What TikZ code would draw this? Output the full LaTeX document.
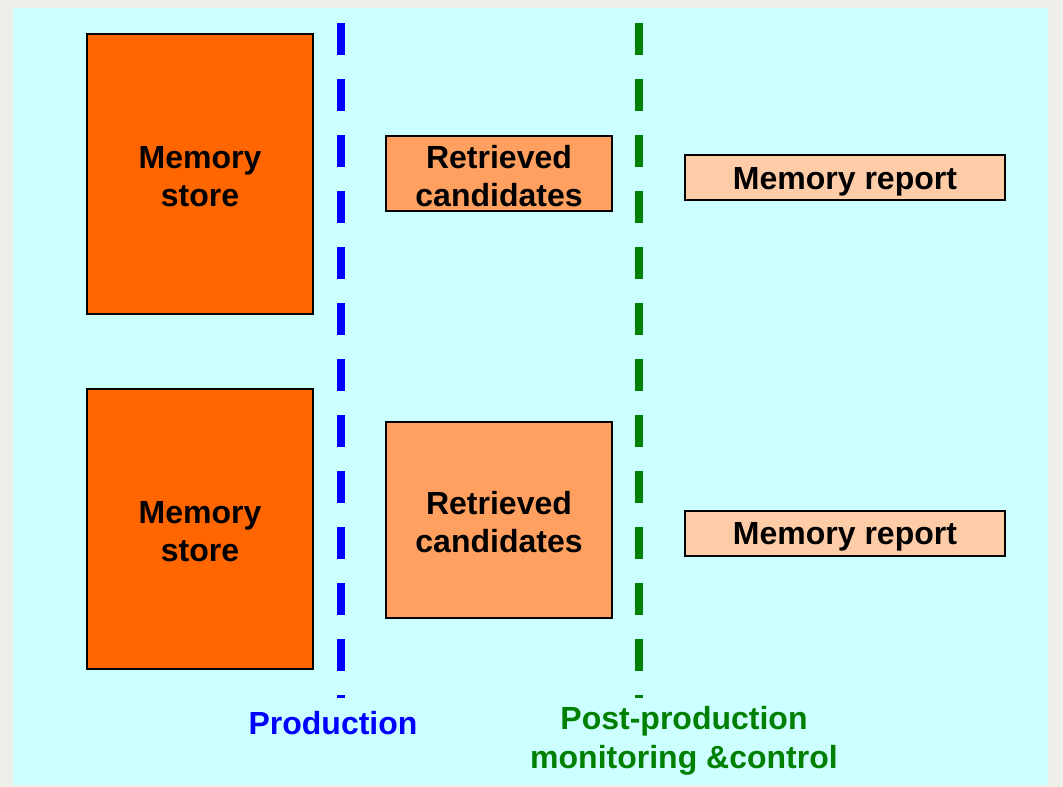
\documentclass[tikz,border=0pt]{standalone}
\usepackage{fontspec}
\setmainfont{Liberation Sans}
\definecolor{pagegray}{HTML}{EFEFEA}
\definecolor{bgcyan}{HTML}{CCFFFF}
\definecolor{storeorange}{HTML}{FF6600}
\definecolor{candorange}{HTML}{FFA060}
\definecolor{reportpeach}{HTML}{FFCCA8}
\definecolor{prodblue}{HTML}{0000FF}
\definecolor{postgreen}{HTML}{008000}
\newcommand{\toppad}{\rule{0pt}{28pt}}
\tikzset{
  boxbase/.style={draw=black, line width=2pt, inner sep=0pt,
    font=\bfseries\fontsize{32}{38}\selectfont},
  box/.style={boxbase, align=center},
  storebox/.style={box, fill=storeorange, minimum width=226pt, minimum height=280pt},
  candbox/.style={box, fill=candorange, minimum width=226pt},
  reportbox/.style={boxbase, fill=reportpeach, minimum width=320pt, minimum height=45pt,
    text height=23pt, text depth=0pt},
  divider/.style={line width=8pt, dash pattern=on 32pt off 24pt},
  phaselabel/.style={align=center, inner sep=0pt, font=\bfseries\fontsize{32}{39}\selectfont}
}
\begin{document}
\begin{tikzpicture}[x=1pt, y=-1pt]
  \fill[pagegray] (0,0) rectangle (1063,787);
  \fill[bgcyan] (13,8) rectangle (1048,785);
  \useasboundingbox (0,0) rectangle (1063,787);

  \node[storebox] (store1) at (200,174) {\toppad Memory\\store};
  \node[storebox] (store2) at (200,529) {\toppad Memory\\store};
  \node[candbox, minimum height=75pt] (cand1) at (499,173.5) {\toppad Retrieved\\candidates};
  \node[candbox, minimum height=196pt] (cand2) at (499,520) {\toppad Retrieved\\candidates};
  \node[reportbox] (report1) at (845,177.5) {Memory report};
  \node[reportbox] (report2) at (845,533) {Memory report};

  \coordinate (prodtop) at (341,23);
  \coordinate (prodbot) at (341,698);
  \coordinate (posttop) at (639,23);
  \coordinate (postbot) at (639,698);
  \draw[divider, prodblue] (prodtop) -- (prodbot);
  \draw[divider, postgreen] (posttop) -- (postbot);

  \node[phaselabel, text=prodblue] (prodlabel) at (333,723) {Production};
  \node[phaselabel, text=postgreen] (postlabel) at (684,741) {Post-production\\monitoring \&control};
\end{tikzpicture}
\end{document}
